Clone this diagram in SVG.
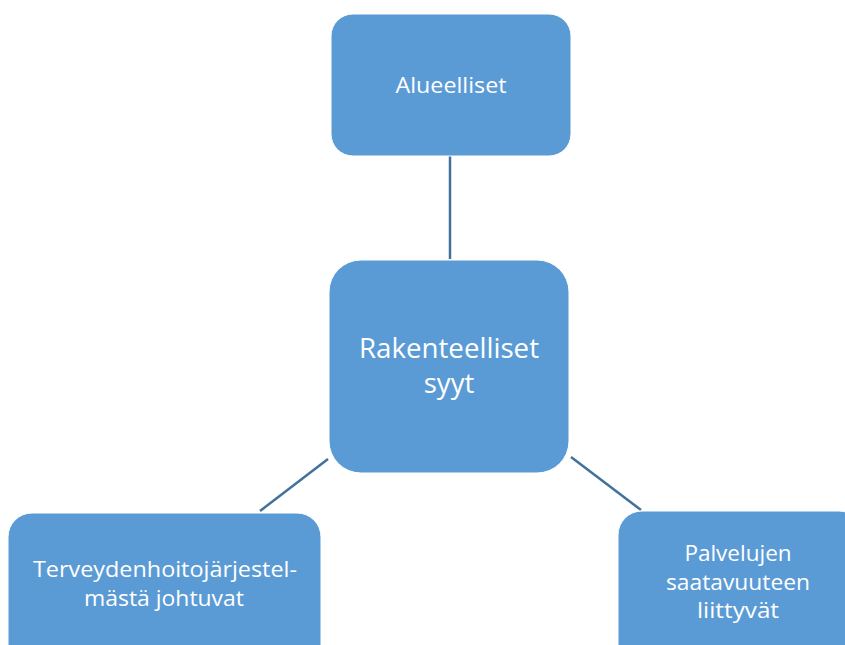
<svg xmlns="http://www.w3.org/2000/svg" width="845" height="645" viewBox="0 0 845 645">
<style>
.box{fill:#5B9BD5;stroke:#FFFFFF;stroke-width:1}
.conn{stroke:#41719C;stroke-width:2.5;fill:none}
.t{fill:#FFFFFF;font-family:"Open Sans","Liberation Sans",sans-serif;text-anchor:middle}
</style>
<rect width="845" height="645" fill="#FFFFFF"/>
<g id="connectors">
<line class="conn" x1="450" y1="156" x2="450" y2="259"/>
<line class="conn" x1="328" y1="459" x2="260" y2="511"/>
<line class="conn" x1="571" y1="457" x2="641" y2="510"/>
</g>
<g id="alueelliset">
<rect class="box" x="331" y="14" width="240" height="142" rx="22"/>
<text class="t" x="451" y="93" font-size="22.5" textLength="111" lengthAdjust="spacingAndGlyphs">Alueelliset</text>
</g>
<g id="rakenteelliset">
<rect class="box" x="329" y="260" width="240" height="213" rx="32"/>
<text class="t" x="449" y="358" font-size="27.5" textLength="180" lengthAdjust="spacingAndGlyphs">Rakenteelliset</text>
<text class="t" x="449" y="393" font-size="27.5">syyt</text>
</g>
<g id="terveydenhoito">
<rect class="box" x="8" y="513" width="313" height="160" rx="24"/>
<text class="t" x="165" y="577" font-size="22.5" textLength="264" lengthAdjust="spacingAndGlyphs">Terveydenhoitojärjestel-</text>
<text class="t" x="164" y="606" font-size="22.5" textLength="160" lengthAdjust="spacingAndGlyphs">mästä johtuvat</text>
</g>
<g id="palvelujen">
<rect class="box" x="618" y="511" width="245" height="160" rx="24"/>
<text class="t" x="738" y="561" font-size="22.5">Palvelujen</text>
<text class="t" x="738" y="590" font-size="22.5" textLength="144" lengthAdjust="spacingAndGlyphs">saatavuuteen</text>
<text class="t" x="738" y="618" font-size="22.5" textLength="82" lengthAdjust="spacingAndGlyphs">liittyvät</text>
</g>
</svg>
